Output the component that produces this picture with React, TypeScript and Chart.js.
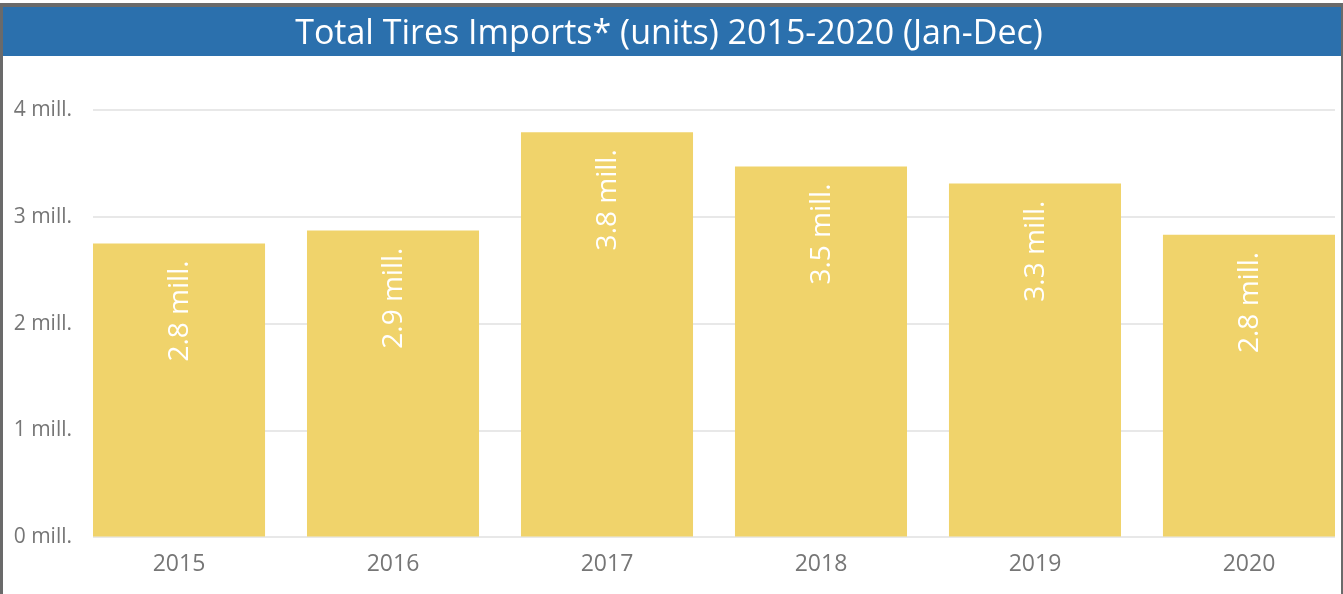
import React, { useEffect, useRef } from "react";
import { Chart, registerables } from "chart.js";

Chart.register(...registerables);

// ---- data ----
const categories: string[] = ["2015", "2016", "2017", "2018", "2019", "2020"];
const importsMillions: number[] = [2.75, 2.87, 3.79, 3.47, 3.31, 2.83];
const valueLabels: string[] = ["2.8 mill.", "2.9 mill.", "3.8 mill.", "3.5 mill.", "3.3 mill.", "2.8 mill."];
const yTickValues: number[] = [0, 1, 2, 3, 4];
const titleText = "Total Tires Imports* (units) 2015-2020 (Jan-Dec)";

// ---- styles ----
const FONT = "'Segoe UI', 'Open Sans', sans-serif";
const BAR_COLOR = "#F0D36B";
const TITLE_BG = "#2B70AD";
const TICK_COLOR = "#767676";
const GRID_COLOR = "#E8E8E8";
const BAND_H = 49;

const titleBandPlugin = {
  id: "titleBand",
  beforeDraw(chart: any) {
    const ctx = chart.ctx;
    ctx.save();
    ctx.fillStyle = TITLE_BG;
    ctx.fillRect(0, 0, chart.width, BAND_H);
    ctx.restore();
  },
};

const barLabelPlugin = {
  id: "barLabels",
  afterDatasetsDraw(chart: any) {
    const ctx = chart.ctx;
    const meta = chart.getDatasetMeta(0);
    ctx.save();
    ctx.fillStyle = "#FFFFFF";
    ctx.font = `28px ${FONT}`;
    ctx.textAlign = "right";
    ctx.textBaseline = "middle";
    meta.data.forEach((bar: any, i: number) => {
      ctx.save();
      ctx.translate(bar.x + 1, bar.y + 17);
      ctx.rotate(-Math.PI / 2);
      ctx.fillText(valueLabels[i], 0, 0);
      ctx.restore();
    });
    ctx.restore();
  },
};

export default function App() {
  const canvasRef = useRef<HTMLCanvasElement | null>(null);

  useEffect(() => {
    document.body.style.margin = "0";
    if (!canvasRef.current) return;
    const chart = new Chart(canvasRef.current, {
      type: "bar",
      data: {
        datasets: [
          {
            label: "Imports",
            data: importsMillions.map((v, i) => ({ x: i, y: v })),
            backgroundColor: BAR_COLOR,
            borderWidth: 0,
            categoryPercentage: 1,
            barPercentage: 0.804,
          },
        ],
      },
      options: {
        animation: false,
        responsive: true,
        maintainAspectRatio: false,
        layout: { padding: { left: 0, right: 6, top: 0, bottom: 3 } },
        plugins: {
          legend: { display: false },
          tooltip: { enabled: false },
          title: {
            display: true,
            text: titleText,
            color: "#FFFFFF",
            font: { family: FONT, size: 34, weight: "normal" },
            padding: { top: 7, bottom: 55 },
          },
        },
        scales: {
          x: {
            type: "linear",
            offset: false,
            min: -0.402,
            max: 5.402,
            afterBuildTicks: (scale: any) => {
              scale.ticks = categories.map((_, i) => ({ value: i }));
            },
            ticks: {
              autoSkip: false,
              maxRotation: 0,
              color: TICK_COLOR,
              font: { family: FONT, size: 23 },
              padding: 13,
              callback: (v: any) => categories[Number(v)] ?? "",
            },
            grid: { display: false, drawTicks: false, offset: false },
            border: { display: false },
          },
          y: {
            min: 0,
            max: 4,
            afterBuildTicks: (scale: any) => {
              scale.ticks = yTickValues.map((v) => ({ value: v }));
            },
            afterFit: (scale: any) => {
              scale.width = 90;
            },
            ticks: {
              color: TICK_COLOR,
              font: { family: FONT, size: 21 },
              padding: 21,
              callback: (v: any) => `${v} mill.`,
            },
            grid: { color: GRID_COLOR, lineWidth: 2, drawTicks: false },
            border: { display: false },
          },
        },
      },
      plugins: [titleBandPlugin, barLabelPlugin],
    });
    return () => chart.destroy();
  }, []);

  return (
    <div
      style={{
        position: "fixed",
        left: 0,
        top: 0,
        width: 1343,
        height: 594,
        background: "#FFFFFF",
        paddingTop: 3,
        boxSizing: "border-box",
      }}
    >
      <div
        style={{
          width: 1343,
          height: 591,
          boxSizing: "border-box",
          borderTop: "4px solid #6A6A6A",
          borderLeft: "3px solid #6A6A6A",
          borderRight: "2px solid #6A6A6A",
        }}
      >
        <div style={{ position: "relative", width: 1338, height: 587 }}>
          <canvas ref={canvasRef} />
        </div>
      </div>
    </div>
  );
}
